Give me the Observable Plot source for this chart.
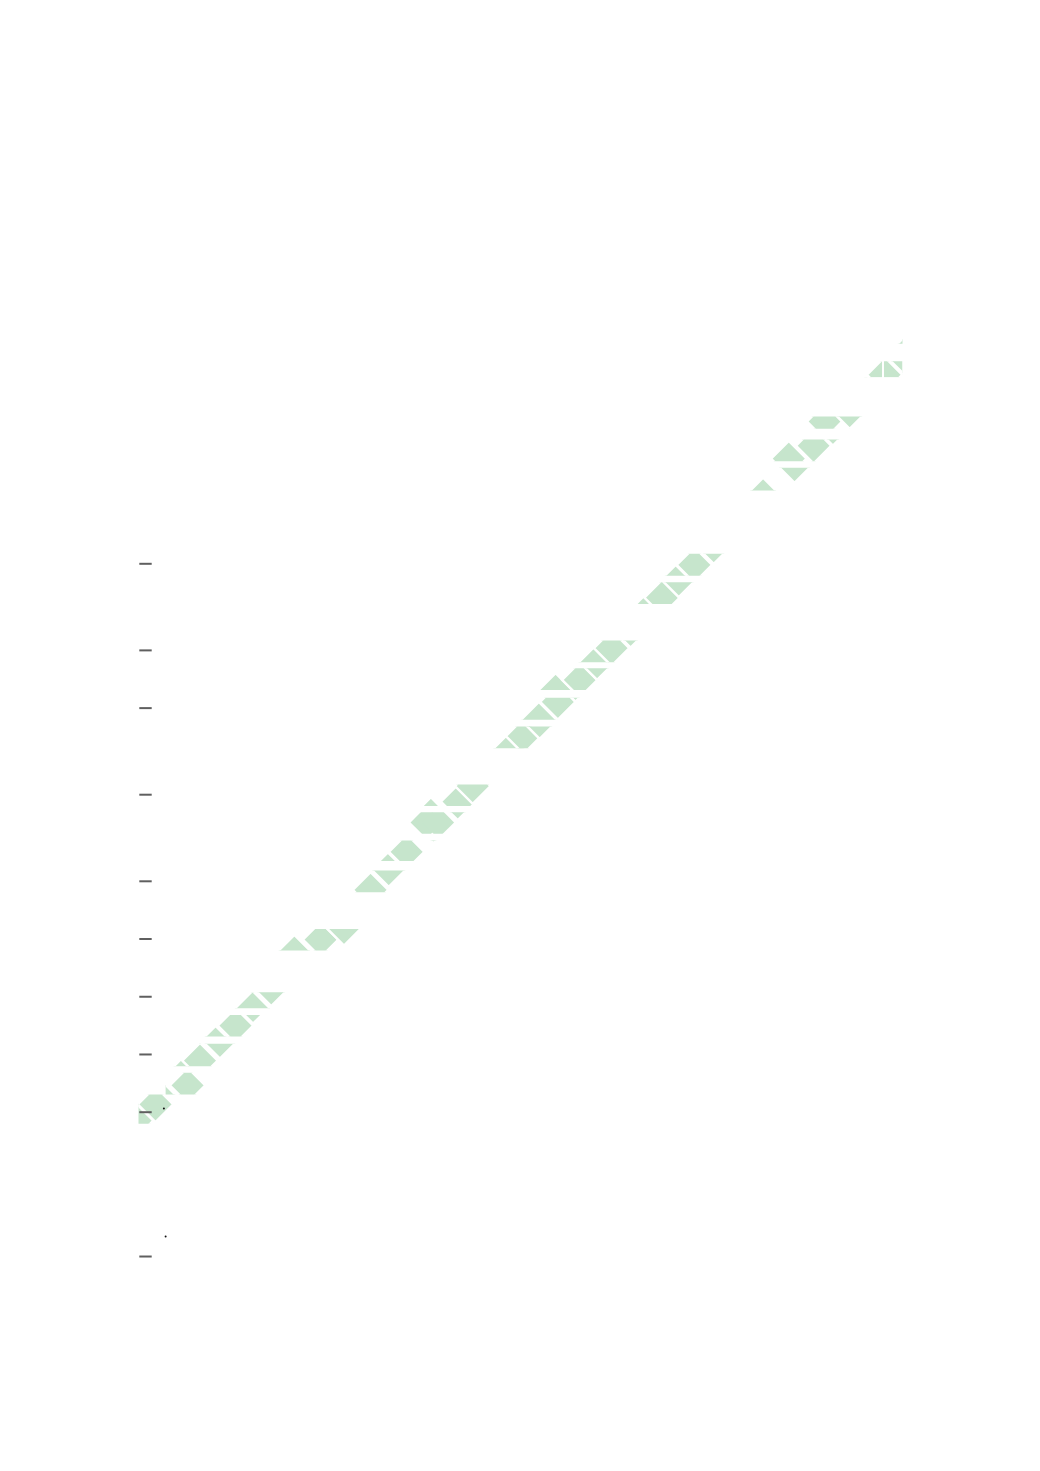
<!DOCTYPE html>
<html>
<head>
<meta charset="utf-8">
<script src="https://cdn.jsdelivr.net/npm/d3@7"></script>
<script src="https://cdn.jsdelivr.net/npm/@observablehq/plot@0.6"></script>
<style>
html, body { margin: 0; padding: 0; background: #fff; overflow: hidden; }
#chart svg { display: block; background: #fff; }
</style>
</head>
<body>
<div id="chart"></div>
<script>
// ---- rows (strips) that are visible: id, bottom, top, left, right (data units)
const stripId     = [1, 2, 2, 3, 4, 5, 6, 7, 8, 9, 10, 11, 12, 13, 14, 15, 16, 17, 18, 19, 20, 21];
const stripBottom = [26.62, 25.46, 25.46, 23.68, 22.55, 21.54, 18.59, 17.61, 15.59, 14.63, 13.60, 12.61, 10.61, 9.65, 8.70, 7.62, 5.60, 3.60, 2.62, 1.59, 0.61, -0.40];
const stripTop    = [27.36, 26.02, 26.02, 24.10, 23.31, 22.33, 19.35, 18.36, 16.34, 15.38, 14.36, 13.36, 11.35, 10.39, 9.41, 8.37, 6.35, 4.16, 3.37, 2.37, 1.37, 0.61];
const stripLeft   = [0, 0, 25.83, 0, 0, 0, 0, 0, 0, 0, 0, 0, 0, 0, 0, 0, 0, 0, 0, 0, 0.94, 0];
const stripRight  = [26.47, 25.76, 26.47, 26.47, 26.47, 26.47, 26.47, 26.47, 26.47, 26.47, 26.47, 26.47, 26.47, 26.47, 26.47, 26.47, 26.47, 26.47, 26.47, 26.47, 26.47, 26.47];

// ---- diamond points: which strip, x, y (data units)
const diamondStrip = [1, 2, 2, 2, 3, 3, 4, 4, 4, 5, 5, 6, 6, 6, 7, 7, 7, 8, 8, 8, 9, 9, 9, 10, 10, 10, 11, 11, 11, 12, 12, 12, 13, 14, 14, 14, 15, 15, 16, 16, 16, 17, 17, 18, 18, 18, 19, 19, 19, 20, 20, 21, 21];
const diamondX = [26.78, 25.20, 25.85, 26.50, 23.77, 24.64, 22.53, 23.39, 24.06, 21.64, 22.73, 18.61, 19.26, 19.93, 17.53, 18.14, 18.72, 15.77, 16.39, 17.05, 14.45, 15.29, 15.89, 13.87, 14.53, 15.14, 12.83, 13.34, 13.90, 10.13, 11.09, 11.58, 11.06, 8.64, 9.29, 10.22, 8.04, 8.67, 5.40, 6.31, 7.12, 3.95, 4.60, 2.67, 3.36, 3.97, 1.48, 2.13, 2.82, 0.76, 1.70, -0.10, 0.59];
const diamondY = [26.49, 24.89, 25.55, 26.20, 23.93, 24.29, 22.64, 23.09, 23.71, 21.37, 22.42, 18.35, 18.96, 19.61, 17.29, 17.83, 18.46, 15.49, 16.08, 16.71, 14.60, 14.98, 15.59, 13.60, 14.22, 14.84, 12.52, 13.03, 13.55, 10.30, 10.76, 11.30, 10.73, 8.39, 9.02, 9.93, 7.70, 8.42, 5.53, 5.98, 6.39, 3.59, 4.29, 2.38, 3.00, 3.68, 1.23, 1.79, 2.47, 0.51, 0.93, -0.29, 0.27];

// ---- merged diamonds (drawn together without a dividing edge)
const mergedStrip = [13, 13];
const mergedX = [9.98, 10.38];
const mergedY = [10.04, 10.04];

// ---- y ticks (no labels shown in the reference)
const tickValues = [19, 16, 14, 11, 8, 6, 4, 2, 0, -5];

// ---- two tiny dark specks
const speckX = [0.88, 0.94];
const speckY = [0.13, -4.31];

const strips = stripId.map((id, i) => ({id, x1: stripLeft[i], x2: stripRight[i], y1: stripBottom[i], y2: stripTop[i]}));
const diamonds = diamondX.map((x, i) => ({strip: diamondStrip[i], x, y: diamondY[i]}));
const merged = mergedX.map((x, i) => ({strip: mergedStrip[i], x, y: mergedY[i]}));
const specks = speckX.map((x, i) => ({x, y: speckY[i]}));

const green = "#c6e5cc";

const chart = Plot.plot({
  width: 1040,
  height: 1471,
  marginLeft: 151.7,
  marginRight: 138,
  marginTop: 0,
  marginBottom: 0,
  x: {domain: [0, 26.47], range: [138, 902], axis: null, label: null},
  y: {domain: [0, 19], range: [1111.7, 563.3], axis: null, label: null},
  marks: [
    Plot.rect(strips, {x1: "x1", x2: "x2", y1: "y1", y2: "y2", fill: "none"}),
    Plot.dot(merged, {x: "x", y: "y", symbol: "diamond2", r: 14.4, fill: green, stroke: "none"}),
    Plot.dot(diamonds, {x: "x", y: "y", symbol: "diamond2", r: 16, fill: green, stroke: "white", strokeWidth: 2.5}),
    Plot.axisY({ticks: tickValues, tickSize: 12.4, tickFormat: () => "", label: null, stroke: "#5f5f5f", strokeWidth: 2}),
    Plot.dot(specks, {x: "x", y: "y", r: 1, fill: "#111"})
  ]
});

document.getElementById("chart").appendChild(chart);

// clip every diamond to the row (strip) it belongs to
const NS = "http://www.w3.org/2000/svg";
const svg = chart.tagName.toLowerCase() === "svg" ? chart : chart.querySelector("svg");
const defs = document.createElementNS(NS, "defs");
svg.insertBefore(defs, svg.firstChild);
const stripG = svg.querySelector('g[aria-label="rect"]');
const clipFor = new Map();
for (const id of new Set(stripId)) {
  const cp = document.createElementNS(NS, "clipPath");
  cp.setAttribute("id", "strip-clip-" + id);
  defs.appendChild(cp);
  clipFor.set(id, cp);
}
if (stripG) {
  const t = stripG.getAttribute("transform");
  Array.from(stripG.querySelectorAll("rect")).forEach((r, i) => {
    const c = r.cloneNode();
    if (t) c.setAttribute("transform", t);
    clipFor.get(strips[i].id).appendChild(c);
  });
  stripG.remove();
}
function clipDots(group, data) {
  if (!group) return;
  Array.from(group.querySelectorAll("path")).forEach((p, i) => {
    const g = document.createElementNS(NS, "g");
    g.setAttribute("clip-path", "url(#strip-clip-" + data[i].strip + ")");
    p.parentNode.insertBefore(g, p);
    g.appendChild(p);
  });
}
const dotGroups = svg.querySelectorAll('g[aria-label="dot"]');
clipDots(dotGroups[0], merged);
clipDots(dotGroups[1], diamonds);
</script>
</body>
</html>
